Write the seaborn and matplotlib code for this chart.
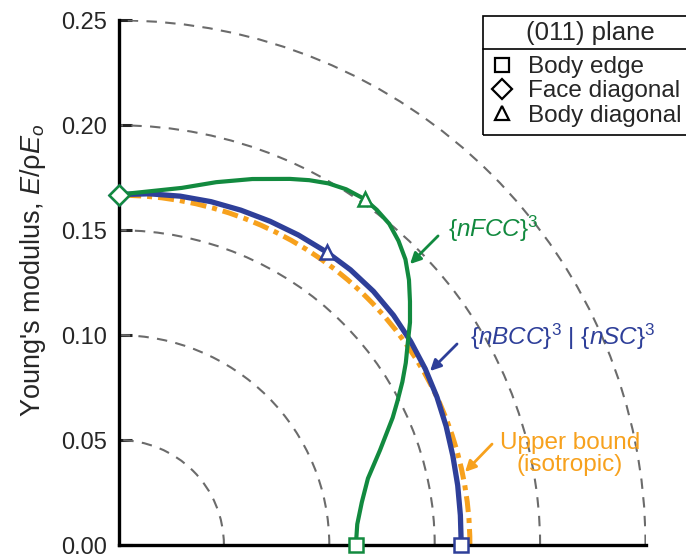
import numpy as np
import pandas as pd
import matplotlib.pyplot as plt
import seaborn as sns
from matplotlib.patches import Arc, Rectangle
from matplotlib.lines import Line2D

# --- data, polar form: angle from body edge [100] (deg), E/rhoE_o ---
fcc_angle = [90, 85, 80, 75, 70, 65, 62.5, 60, 57.5, 54.7, 52.5, 50, 47.5, 45, 42.5, 40,
             37.5, 35, 32.5, 30, 27.5, 25, 20, 15, 10, 5, 0]
fcc_r = [0.1670, 0.1692, 0.1728, 0.1790, 0.1856, 0.1925, 0.1960, 0.1990, 0.2010, 0.2020,
         0.2013, 0.1998, 0.1966, 0.1925, 0.1869, 0.1805, 0.1743, 0.1675, 0.1616, 0.1555,
         0.1493, 0.1435, 0.1320, 0.1225, 0.1172, 0.1137, 0.1126]
bcc_angle = [90, 85, 80, 75, 70, 65, 60, 54.7, 50, 45, 40, 35, 30, 25, 20, 15, 10, 5, 0]
bcc_r = [0.1670, 0.1680, 0.1688, 0.1694, 0.1698, 0.1702, 0.1706, 0.1710, 0.1712, 0.1710,
         0.1703, 0.1692, 0.1680, 0.1667, 0.1654, 0.1642, 0.1634, 0.1628, 0.1626]

# markers: body edge, face diagonal, body diagonal
mark_angle = [0, 90, 54.7]
fcc_mark_r = [0.1126, 0.1670, 0.2020]
bcc_mark_r = [0.1626, 0.1670, 0.1710]

upper_bound = 0.1667
grid_radii = [0.05, 0.10, 0.15, 0.20, 0.25]
yticks = [0.00, 0.05, 0.10, 0.15, 0.20, 0.25]
legend_labels = ["Body edge", "Face diagonal", "Body diagonal"]

GREEN = "#128a3f"
BLUE = "#2e3f99"
ORANGE = "#f7a11d"
GRAY = "#6b6b6b"


def to_xy(angle, r):
    t = np.radians(angle)
    return np.asarray(r) * np.cos(t), np.asarray(r) * np.sin(t)


sns.set_theme(style="ticks")
plt.rcParams["font.family"] = ["Liberation Sans", "DejaVu Sans"]
plt.rcParams["mathtext.fontset"] = "custom"
plt.rcParams["mathtext.rm"] = "Liberation Sans"
plt.rcParams["mathtext.it"] = "Liberation Sans:italic"

fig = plt.figure(figsize=(6.86, 5.57), dpi=100)
ax = fig.add_axes([118.5 / 686, 12 / 557, 527 / 686, 524.6 / 557])

# dashed reference circles
for r in grid_radii:
    ax.add_patch(Arc((0, 0), 2 * r, 2 * r, theta1=0, theta2=90, color=GRAY,
                     lw=1.5, ls=(0, (5, 4)), zorder=1))

# isotropic upper bound
ax.add_patch(Arc((0, 0), 2 * upper_bound, 2 * upper_bound, theta1=0, theta2=90,
                 color=ORANGE, lw=3.6, ls=(0, (3.2, 1.2, 1.0, 1.2)), zorder=2))

bx, by = to_xy(bcc_angle, bcc_r)
fx, fy = to_xy(fcc_angle, fcc_r)
bcc = pd.DataFrame({"x": bx, "y": by})
fcc = pd.DataFrame({"x": fx, "y": fy})
sns.lineplot(data=bcc, x="x", y="y", sort=False, estimator=None, color=BLUE, lw=3.8,
             ax=ax, zorder=3)
sns.lineplot(data=fcc, x="x", y="y", sort=False, estimator=None, color=GREEN, lw=3.0,
             ax=ax, zorder=4)
for line in ax.lines:
    line.set_solid_joinstyle("round")

for mr, c, z in [(bcc_mark_r, BLUE, 6), (fcc_mark_r, GREEN, 7)]:
    mx, my = to_xy(mark_angle, mr)
    for i, m in enumerate(["s", "D", "^"]):
        ax.plot(mx[i], my[i], m, ms=10, mfc="white", mec=c, mew=1.8, clip_on=False, zorder=z)

ax.set_xlim(0, 0.25)
ax.set_ylim(0, 0.25)
ax.set_xticks([])
ax.set_yticks(yticks)
ax.set_yticklabels([f"{v:.2f}" for v in yticks])
ax.tick_params(axis="y", direction="in", length=9, width=2.2, labelsize=17, pad=8)
ax.set_xlabel("")
ax.set_ylabel(r"Young's modulus, $\mathit{E}$/ρ$\mathit{E}_{\mathit{o}}$", fontsize=19.5)
ax.yaxis.set_label_coords(-0.134, 0.524)
sns.despine(ax=ax)
for s in ["left", "bottom"]:
    ax.spines[s].set_linewidth(2.4)
    ax.spines[s].set_color("black")
    ax.spines[s].set_zorder(5)

# annotations
arrow = dict(arrowstyle="-|>", lw=2, mutation_scale=16, shrinkA=0, shrinkB=0)
ax.annotate("", xy=(0.1383, 0.1339), xytext=(0.1516, 0.1473), arrowprops=dict(arrow, color=GREEN))
ax.text(0.1563, 0.1506, r"{$\mathit{nFCC}$}$^{3}$", color=GREEN, fontsize=17.5, va="center", ha="left")
ax.annotate("", xy=(0.1478, 0.0829), xytext=(0.1606, 0.0958), arrowprops=dict(arrow, color=BLUE))
ax.text(0.1668, 0.0991, r"{$\mathit{nBCC}$}$^{3}$ | {$\mathit{nSC}$}$^{3}$", color=BLUE,
        fontsize=17.5, va="center", ha="left")
ax.annotate("", xy=(0.1644, 0.0348), xytext=(0.1772, 0.0481), arrowprops=dict(arrow, color=ORANGE))
ax.text(0.2142, 0.0435, "Upper bound\n(isotropic)", color=ORANGE, fontsize=17.5, va="center",
        ha="center", multialignment="center", linespacing=1.0)

# legend box with title row
fig.add_artist(Rectangle((483 / 686, 1 - 135 / 557), 220 / 686, 119 / 557,
                         transform=fig.transFigure, fill=False, lw=1.2, color="black"))
fig.add_artist(Line2D([483 / 686, 1], [1 - 49 / 557] * 2, transform=fig.transFigure,
                      lw=1.2, color="black"))
fig.text(590 / 686, 1 - 33 / 557, "(011) plane", ha="center", va="center", fontsize=18.5)
handles = [Line2D([], [], ls="none", marker=m, ms=10, mfc="white", mec="black", mew=1.6)
           for m in ["s", "D", "^"]]
fig.legend(handles, legend_labels, loc="upper left", bbox_to_anchor=(490 / 686, 1 - 56 / 557),
           frameon=False, fontsize=17.5, handlelength=1.0, handletextpad=0.55,
           labelspacing=0.1, borderpad=0, borderaxespad=0)

fig.savefig("out.png", dpi=100)
